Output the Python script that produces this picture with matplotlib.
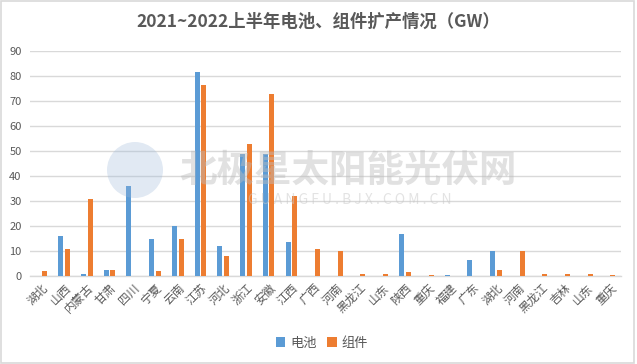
import matplotlib
matplotlib.use("Agg")
import matplotlib.pyplot as plt
import numpy as np
from matplotlib.patches import Rectangle, Ellipse

plt.rcParams['font.family'] = ['Noto Sans CJK SC', 'DejaVu Sans']

regions = ["湖北", "山西", "内蒙古", "甘肃", "四川", "宁夏", "云南", "江苏", "河北", "浙江",
           "安徽", "江西", "广西", "河南", "黑龙江", "山东", "陕西", "重庆", "福建", "广东",
           "湖北", "河南", "黑龙江", "吉林", "山东", "重庆"]
battery = [0, 16, 1, 2.4, 36, 15, 20, 81.5, 12, 49,
           49, 13.5, 0, 0, 0, 0, 17, 0, 0.4, 6.4,
           10, 0, 0, 0, 0, 0]
module = [2, 11, 31, 2.4, 0, 2, 15, 76.5, 8, 53,
          73, 32, 11, 10, 1, 1, 1.5, 0.4, 0, 0,
          2.3, 10, 1, 1, 1, 0.4]
yticks = list(range(0, 100, 10))
title = "2021~2022上半年电池、组件扩产情况（GW）"

blue = "#5B9BD5"
orange = "#ED7D31"
txt = "#595959"

fig = plt.figure(figsize=(6.37, 3.64), dpi=100)
ax = fig.add_axes([30/637, 1-276/364, 591/637, 225/364])

x = np.arange(len(regions))
w = 0.22
ax.bar(x - 0.145, battery, width=w, color=blue, label="电池", zorder=3)
ax.bar(x + 0.145, module, width=w, color=orange, label="组件", zorder=3)

ax.set_xlim(-0.5, len(regions) - 0.5)
ax.set_ylim(0, 90)
ax.set_yticks(yticks)
ax.yaxis.grid(True, color="#D9D9D9", linewidth=1.0, zorder=0)
ax.set_axisbelow(True)
for s in ["top", "right", "left"]:
    ax.spines[s].set_visible(False)
ax.spines["bottom"].set_color("#D9D9D9")
ax.spines["bottom"].set_linewidth(1.0)
ax.tick_params(axis="both", length=0, colors=txt, labelsize=8)
ax.tick_params(axis="y", pad=6)
ax.set_xticks(x)
ax.set_xticklabels(regions, rotation=45, ha="right", rotation_mode="anchor", fontsize=8.5, color=txt)
ax.tick_params(axis="x", pad=4)

# watermark
fig.patches.append(Ellipse((135/637, 1-170/364), 56/637, 56/364, transform=fig.transFigure,
                           facecolor="#9DB8D9", alpha=0.3, edgecolor="none", zorder=10))
fig.text(348/637, 1-170/364, "北极星太阳能光伏网", fontsize=27, fontweight="bold", color="#BDBDBD",
         alpha=0.45, ha="center", va="center", zorder=10, style="italic")
fig.text(350/637, 1-200/364, "G U A N G F U . B J X . C O M . C N", fontsize=10, color="#C8C8C8",
         alpha=0.5, ha="center", va="center", zorder=10)

fig.text(0.5, 1-22/364, title, fontsize=12.5, fontweight="bold", color=txt, ha="center", va="center")

leg = fig.legend(loc="center", bbox_to_anchor=(322/637, 1-343/364), ncol=2, frameon=False,
                 fontsize=9.5, handlelength=0.7, handleheight=0.7, columnspacing=0.8,
                 handletextpad=0.4)
for t in leg.get_texts():
    t.set_color(txt)

fig.patches.append(Rectangle((0.002, 0.004), 0.994, 0.992, transform=fig.transFigure,
                             fill=False, edgecolor="#D9D9D9", linewidth=1.2))

fig.savefig("out.png", dpi=100, facecolor="white")
